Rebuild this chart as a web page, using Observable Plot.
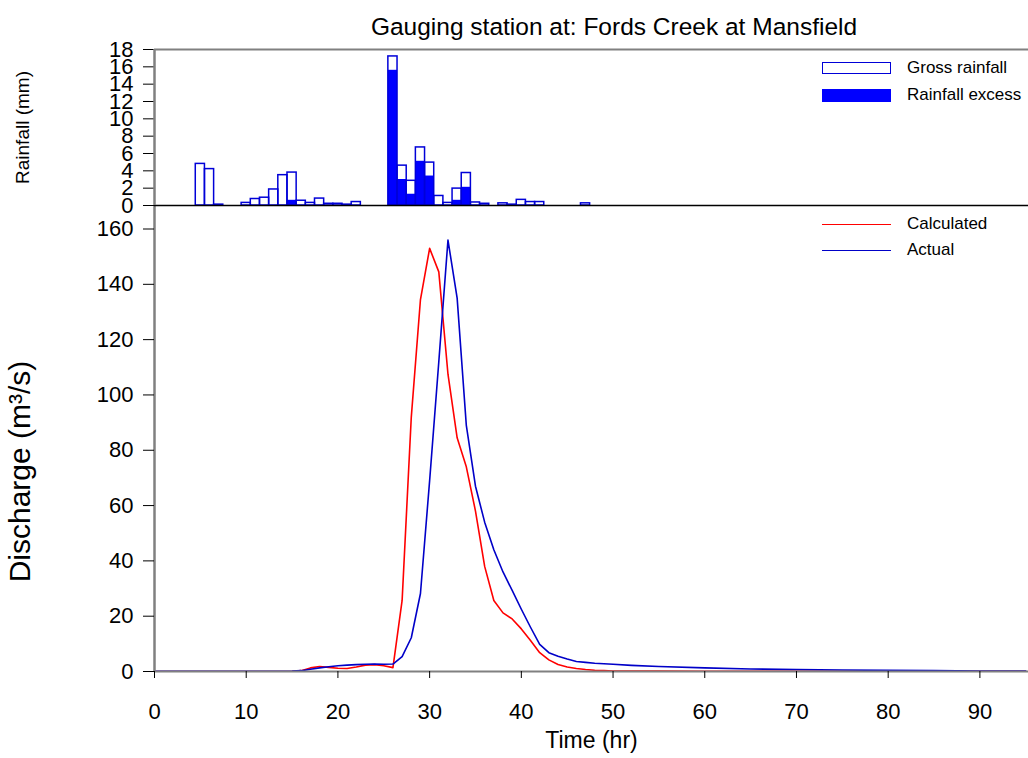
<!DOCTYPE html>
<html><head><meta charset="utf-8">
<script src="https://cdn.jsdelivr.net/npm/d3@7"></script>
<script src="https://cdn.jsdelivr.net/npm/@observablehq/plot@0.6"></script>
<style>
body{margin:0;background:#fff;font-family:"Liberation Sans",Arial,sans-serif;}
#wrap{position:relative;width:1028px;height:758px;overflow:hidden;background:#fff}
#wrap svg{position:absolute;left:0;top:0;overflow:visible}
.title{position:absolute;left:614px;top:14.5px;transform:translateX(-50%);font-size:24.5px;line-height:24px;white-space:nowrap;color:#000}
.leg{position:absolute;left:822px;height:26px;display:flex;align-items:center;font-size:17px;color:#000;white-space:nowrap}
.sw{display:inline-block;width:69px;margin-right:16px;box-sizing:border-box}
</style>
</head><body>
<div id="wrap"></div>
<script>
// ---- Data ----
const titleText = "Gauging station at: Fords Creek at Mansfield";
const rainHours  = [5,6,7,10,11,12,13,14,15,16,17,18,19,20,21,22,26,27,28,29,30,31,32,33,34,35,36,38,39,40,41,42,47];
const grossRain  = [4.8,4.2,0.1,0.3,0.75,0.9,1.85,3.5,3.8,0.55,0.3,0.8,0.2,0.2,0.1,0.4,17.2,4.6,2.85,6.7,4.95,1.1,0.3,1.95,3.75,0.35,0.2,0.25,0.1,0.65,0.4,0.4,0.25];
const excessRain = [0,0,0,0,0,0,0,0,0.6,0,0,0,0,0,0,0,15.6,3.0,1.3,5.1,3.4,0,0,0.6,2.1,0,0,0,0,0,0,0,0];

const calcTime = [0,5,10,15,16,17,18,19,20,21,22,23,24,25,26,27,28,29,30,31,32,33,34,35,36,37,38,39,40,41,42,43,44,45,46,47,48,49,50,55,60,70,80,90,95];
const calcQ    = [0,0,0,0.05,0.3,1.3,1.8,1.5,1.2,1.1,1.6,2.3,2.5,2.1,1.4,25.7,92,134.5,153,144.5,107.5,84.5,74,58,38,25.7,21.2,19,15.4,11.2,6.8,4.2,2.5,1.6,1.1,0.7,0.45,0.3,0.2,0.12,0.1,0.1,0.08,0.06,0.05];

const actTime = [0,5,10,15,16,17,18,19,20,21,22,23,24,25,26,27,28,29,30,31,32,33,34,35,36,37,38,39,40,41,42,43,44,45,46,47,48,49,50,52,55,60,65,70,75,80,85,90,95];
const actQ    = [0.1,0.1,0.1,0.15,0.3,0.8,1.3,1.7,2.1,2.3,2.5,2.6,2.7,2.6,2.7,5.4,12.2,28.2,69,112,156,135,89,67,54,44,36,29.3,22.5,16,9.8,6.8,5.5,4.5,3.6,3.3,3.0,2.8,2.6,2.2,1.8,1.3,0.9,0.7,0.55,0.4,0.3,0.2,0.15];

const xTicks = [0,10,20,30,40,50,60,70,80,90];
const rainTicks = [0,2,4,6,8,10,12,14,16,18];
const qTicks = [0,20,40,60,80,100,120,140,160];
const rainLegend = ["Gross rainfall","Rainfall excess"];
const flowLegend = ["Calculated","Actual"];

// ---- Build ----
const FONT = '"Liberation Sans", Arial, sans-serif';
const blueStroke = "#0000d8", blueFill = "#0000ff", red = "#ff0000", actBlue = "#0000c8", axisGray = "#808080";
const xDomain = [0, 95.3];

const rain = rainHours.map((t,i)=>({t, gross: grossRain[i], excess: excessRain[i]}));
const calc = calcTime.map((t,i)=>({t, q: calcQ[i]}));
const act  = actTime.map((t,i)=>({t, q: actQ[i]}));

const wrap = document.getElementById("wrap");

const rainPlot = Plot.plot({
  width: 1028, height: 215,
  marginLeft: 154, marginRight: 0, marginTop: 49, marginBottom: 10,
  x: {domain: xDomain, axis: null}, y: {domain: [0,18], axis: null},
  style: {fontFamily: FONT, fontSize: "22px", background: "transparent", color: "#000"},
  marks: [
    Plot.rect(rain, {x1: d=>d.t-0.5, x2: d=>d.t+0.5, y1: 0, y2: "gross", fill: "white"}),
    Plot.rect(rain.filter(d=>d.excess>0), {x1: d=>d.t-0.5, x2: d=>d.t+0.5, y1: 0, y2: "excess", fill: blueFill}),
    Plot.rect(rain, {x1: d=>d.t-0.5, x2: d=>d.t+0.5, y1: 0, y2: "gross", fill: "none", stroke: blueStroke, strokeWidth: 1.5}),
    Plot.ruleY([0], {stroke: "#000", strokeWidth: 1.5}),
    Plot.ruleY([18], {stroke: axisGray, strokeWidth: 2}),
    Plot.axisY({ticks: rainTicks, tickSize: 11, tickPadding: 10, label: null}),
    Plot.ruleX([0], {stroke: axisGray, strokeWidth: 2.5}),
    Plot.text(["Rainfall (mm)"], {frameAnchor: "left", dx: -132, rotate: -90, fontSize: 19, textAnchor: "middle", lineAnchor: "middle"})
  ]
});

const flowPlot = Plot.plot({
  width: 1028, height: 758,
  marginLeft: 154, marginRight: 0, marginTop: 205, marginBottom: 87,
  x: {domain: xDomain, axis: null}, y: {domain: [0, 168.5], axis: null},
  style: {fontFamily: FONT, fontSize: "22px", background: "transparent", color: "#000"},
  marks: [
    Plot.line(calc, {x: "t", y: "q", stroke: red, strokeWidth: 1.6, clip: true}),
    Plot.line(act, {x: "t", y: "q", stroke: actBlue, strokeWidth: 1.6, clip: true}),
    Plot.ruleX([0], {stroke: axisGray, strokeWidth: 2.5}),
    Plot.ruleY([0], {stroke: axisGray, strokeWidth: 2}),
    Plot.axisY({ticks: qTicks, tickSize: 11, tickPadding: 10, label: null}),
    Plot.axisX({ticks: xTicks, tickSize: 7, tickPadding: 25, label: null}),
    Plot.text(["Discharge (m³/s)"], {frameAnchor: "left", dx: -134, dy: 33, rotate: -90, fontSize: 30, textAnchor: "middle", lineAnchor: "middle"}),
    Plot.text(["Time (hr)"], {frameAnchor: "bottom", dy: 69, fontSize: 23, lineAnchor: "middle"})
  ]
});

wrap.appendChild(flowPlot);
wrap.appendChild(rainPlot);

const title = document.createElement("div");
title.className = "title";
title.textContent = titleText;
wrap.appendChild(title);

function legendItem(label, top, swStyle){
  const d = document.createElement("div");
  d.className = "leg";
  d.style.top = top + "px";
  const s = document.createElement("span");
  s.className = "sw";
  Object.assign(s.style, swStyle);
  d.appendChild(s);
  d.appendChild(document.createTextNode(label));
  wrap.appendChild(d);
}
legendItem(rainLegend[0], 55, {height: "12px", border: "1.5px solid " + blueStroke, background: "#fff"});
legendItem(rainLegend[1], 82, {height: "13px", background: blueFill});
legendItem(flowLegend[0], 211, {height: "0px", borderTop: "1.6px solid " + red});
legendItem(flowLegend[1], 237, {height: "0px", borderTop: "1.6px solid " + actBlue});
</script>
</body></html>
